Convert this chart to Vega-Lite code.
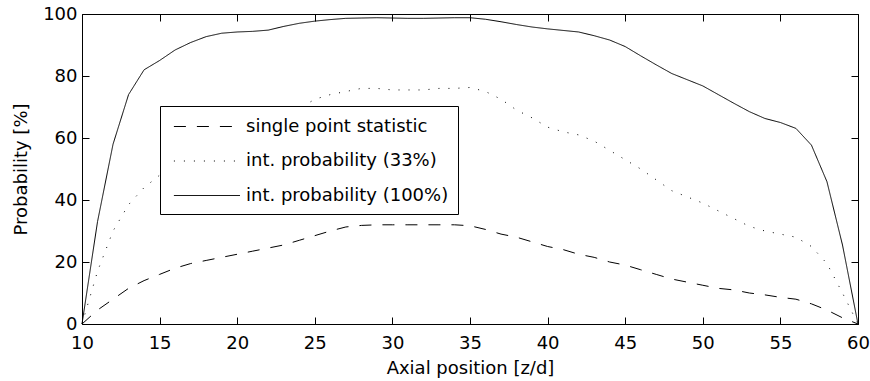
{
  "$schema": "https://vega.github.io/schema/vega-lite/v6.json",
  "width": 776,
  "height": 310,
  "autosize": {"type": "none"},
  "padding": {"left": 82, "top": 14, "right": 12, "bottom": 57},
  "background": "white",
  "config": {
    "view": {"stroke": "black", "strokeWidth": 1},
    "font": "DejaVu Sans",
    "axis": {"grid": false, "domain": false, "tickColor": "black", "tickSize": -7, "tickWidth": 1, "labelColor": "black", "titleColor": "black", "labelFont": "DejaVu Sans", "titleFont": "DejaVu Sans", "labelFontSize": 18, "titleFontSize": 18, "titleFontWeight": "normal", "labelFlush": false, "labelOverlap": false}
  },
  "data": {"values": [
    {"z":10,"s":0,"a":0,"b":0},
    {"z":11,"s":4.5,"a":17,"b":33},
    {"z":12,"s":8,"a":30,"b":58},
    {"z":13,"s":11.5,"a":38.5,"b":74},
    {"z":14,"s":14,"a":44,"b":82},
    {"z":15,"s":16,"a":48,"b":85},
    {"z":16,"s":18,"a":51,"b":88.4},
    {"z":17,"s":19.5,"a":54,"b":90.8},
    {"z":18,"s":20.5,"a":57,"b":92.7},
    {"z":19,"s":21.5,"a":59,"b":93.8},
    {"z":20,"s":22.5,"a":61,"b":94.2},
    {"z":21,"s":23.5,"a":63,"b":94.4},
    {"z":22,"s":24.5,"a":65,"b":94.8},
    {"z":23,"s":25.5,"a":67,"b":96},
    {"z":24,"s":27,"a":69.5,"b":97},
    {"z":25,"s":28.5,"a":72.5,"b":97.7},
    {"z":26,"s":30,"a":74,"b":98.2},
    {"z":27,"s":31.3,"a":75,"b":98.6},
    {"z":28,"s":31.8,"a":76,"b":98.7},
    {"z":29,"s":32,"a":76,"b":98.8},
    {"z":30,"s":32,"a":75.5,"b":98.7},
    {"z":31,"s":32,"a":75.5,"b":98.6},
    {"z":32,"s":32,"a":75.5,"b":98.6},
    {"z":33,"s":32,"a":76,"b":98.7},
    {"z":34,"s":32,"a":76,"b":98.8},
    {"z":35,"s":31.7,"a":76.3,"b":98.8},
    {"z":36,"s":30.5,"a":75,"b":98.3},
    {"z":37,"s":29,"a":72.5,"b":97.5},
    {"z":38,"s":28,"a":69,"b":96.6},
    {"z":39,"s":26.5,"a":66.5,"b":95.8},
    {"z":40,"s":25,"a":63.5,"b":95.2},
    {"z":41,"s":24,"a":62,"b":94.7},
    {"z":42,"s":22.5,"a":61,"b":94.2},
    {"z":43,"s":21.5,"a":59,"b":93},
    {"z":44,"s":20,"a":56,"b":91.6},
    {"z":45,"s":19,"a":53,"b":89.5},
    {"z":46,"s":17.5,"a":50,"b":86.5},
    {"z":47,"s":16,"a":46.5,"b":83.6},
    {"z":48,"s":14.5,"a":43,"b":80.8},
    {"z":49,"s":13.5,"a":41,"b":78.8},
    {"z":50,"s":12.5,"a":39,"b":76.8},
    {"z":51,"s":11.5,"a":36.5,"b":74},
    {"z":52,"s":11,"a":34,"b":71.2},
    {"z":53,"s":10,"a":31.5,"b":68.5},
    {"z":54,"s":9.4,"a":30,"b":66.3},
    {"z":55,"s":8.6,"a":29,"b":65},
    {"z":56,"s":8,"a":28,"b":63.1},
    {"z":57,"s":6.5,"a":25,"b":57.7},
    {"z":58,"s":4.5,"a":19.5,"b":45.9},
    {"z":59,"s":2,"a":10,"b":25.5},
    {"z":60,"s":0,"a":0,"b":0}
  ]},
  "transform": [
    {"fold": ["s", "a", "b"], "as": ["key", "p"]},
    {"lookup": "key", "from": {"data": {"values": [
      {"key": "s", "series": "single point statistic", "o": 1},
      {"key": "a", "series": "int. probability (33%)", "o": 2},
      {"key": "b", "series": "int. probability (100%)", "o": 3}
    ]}, "key": "key", "fields": ["series", "o"]}}
  ],
  "layer": [
    {
      "mark": {"type": "line", "color": "black", "strokeWidth": 1, "strokeCap": "butt"},
      "encoding": {
        "x": {"field": "z", "type": "quantitative", "scale": {"domain": [10, 60], "nice": false},
              "axis": {"orient": "bottom", "values": [10,15,20,25,30,35,40,45,50,55,60], "title": "Axial position [z/d]", "labelPadding": 17, "titlePadding": 7}},
        "y": {"field": "p", "type": "quantitative", "scale": {"domain": [0, 100], "nice": false},
              "axis": {"orient": "left", "values": [0,20,40,60,80,100], "title": "Probability [%]", "labelPadding": 12, "titlePadding": 12}},
        "strokeDash": {"field": "series", "type": "nominal",
          "scale": {"domain": ["single point statistic", "int. probability (33%)", "int. probability (100%)"],
                    "range": [[12, 11], [1, 9], [1, 0]]},
          "legend": {"title": null, "orient": "none", "legendX": 78, "legendY": 92, "direction": "vertical",
                     "fillColor": "white", "strokeColor": "black", "padding": 9, "rowPadding": 13.5,
                     "symbolType": "M-0.6,0H5.4", "symbolSize": 484, "symbolStrokeColor": "black", "symbolStrokeWidth": 1,
                     "labelFont": "DejaVu Sans", "labelFontSize": 18, "labelColor": "black", "labelOffset": 54, "labelLimit": 400}},
        "order": {"field": "z", "type": "quantitative"}
      }
    },
    {
      "mark": {"type": "point", "opacity": 0},
      "encoding": {
        "x": {"field": "z", "type": "quantitative", "scale": {"domain": [10, 60], "nice": false},
              "axis": {"orient": "top", "values": [10,15,20,25,30,35,40,45,50,55,60], "labels": false, "title": null}},
        "y": {"field": "p", "type": "quantitative", "scale": {"domain": [0, 100], "nice": false},
              "axis": {"orient": "right", "values": [0,20,40,60,80,100], "labels": false, "title": null}}
      }
    }
  ],
  "resolve": {"axis": {"x": "independent", "y": "independent"}}
}
